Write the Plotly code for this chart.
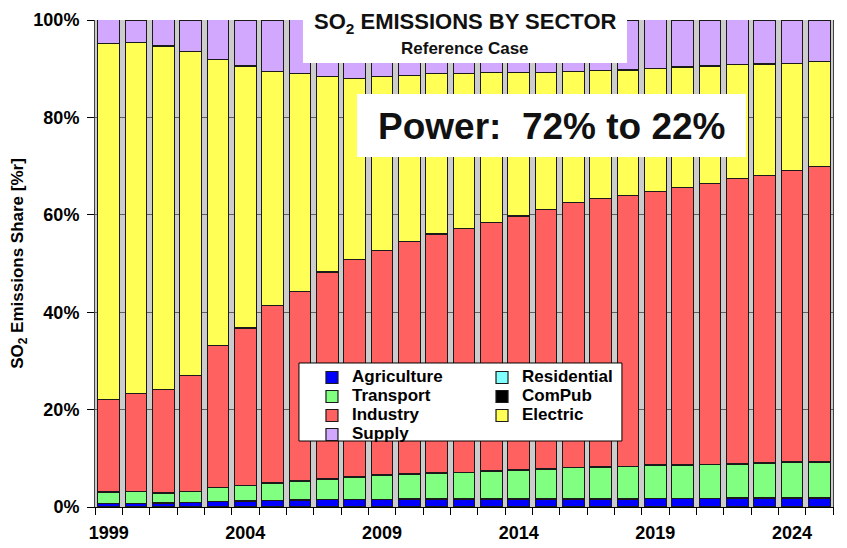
import plotly.graph_objects as go

# Años y participación (%) de cada sector en las emisiones de SO2
anios = [1999, 2000, 2001, 2002, 2003, 2004, 2005, 2006, 2007, 2008, 2009, 2010, 2011, 2012,
         2013, 2014, 2015, 2016, 2017, 2018, 2019, 2020, 2021, 2022, 2023, 2024, 2025]

agricultura = [0.7, 0.7, 0.8, 0.9, 1.1, 1.2, 1.3, 1.4, 1.5, 1.5, 1.5, 1.6, 1.6, 1.6,
               1.6, 1.6, 1.6, 1.6, 1.6, 1.6, 1.7, 1.7, 1.7, 1.8, 1.8, 1.8, 1.8]
residencial = [0.05] * 27
transporte = [2.3, 2.4, 2.0, 2.2, 2.8, 3.1, 3.5, 3.8, 4.2, 4.6, 5.0, 5.1, 5.3, 5.4,
              5.7, 5.9, 6.1, 6.4, 6.5, 6.6, 6.8, 6.8, 6.9, 7.0, 7.1, 7.3, 7.4]
compub = [0.1] * 27
industria = [19.0, 20.0, 21.1, 23.7, 29.1, 32.3, 36.4, 38.9, 42.4, 44.5, 46.1, 47.6, 49.0, 50.0,
             50.9, 52.1, 53.3, 54.3, 55.1, 55.6, 56.2, 56.9, 57.6, 58.5, 59.1, 59.8, 60.5]
electrica = [73.1, 72.1, 70.6, 66.6, 58.8, 53.8, 48.0, 44.8, 40.2, 37.3, 35.6, 34.1, 32.9, 31.8,
             30.8, 29.4, 28.0, 26.9, 26.2, 25.8, 25.2, 24.8, 24.2, 23.4, 22.8, 22.1, 21.6]
suministro = [4.8, 4.6, 5.4, 6.4, 8.1, 9.4, 10.6, 11.0, 11.6, 11.9, 11.7, 11.4, 11.1, 11.0,
              10.9, 10.8, 10.8, 10.7, 10.5, 10.2, 10.0, 9.6, 9.4, 9.2, 9.0, 8.8, 8.5]

anios_etiqueta = [1999, 2004, 2009, 2014, 2019, 2024]

FUENTE = "Arial, Liberation Sans, sans-serif"

# (nombre, valores, color, leyenda)
SECTORES = [
    ("Agriculture", agricultura, "#0000ff", "legend"),
    ("Residential", residencial, "#80ffff", "legend2"),
    ("Transport",   transporte,  "#80ff80", "legend"),
    ("ComPub",      compub,      "#000000", "legend2"),
    ("Industry",    industria,   "#ff6060", "legend"),
    ("Electric",    electrica,   "#ffff55", "legend2"),
    ("Supply",      suministro,  "#d2a8ff", "legend"),
]

fig = go.Figure()

for nombre, valores, color, leyenda in SECTORES:
    fig.add_trace(go.Bar(
        # texto grande con interlineado de fuente chica, como en la leyenda original
        name=f'<span style="font-size:17px">{nombre}</span>',
        x=anios,
        y=valores,
        marker=dict(color=color, line=dict(color="#1a1a1a", width=1.2)),
        legend=leyenda,
        hovertemplate=nombre + " %{x}: %{y:.1f}%<extra></extra>",
    ))

# ─────────────────────────────────────────
# Cajas blancas: título, nota y leyenda
# ─────────────────────────────────────────
cajas = [
    (0.2818, 0.9117, 0.7209, 1.03, None),
    (0.355, 0.7187, 0.882, 0.848, None),
    (0.2764, 0.1355, 0.714, 0.2957, "black"),
]
for x0, y0, x1, y1, borde in cajas:
    fig.add_shape(
        type="rect", xref="paper", yref="paper",
        x0=x0, y0=y0, x1=x1, y1=y1,
        fillcolor="white",
        line=dict(color=borde or "white", width=1 if borde else 0),
        layer="above",
    )

textos = [
    ("SO<sub>2</sub> EMISSIONS BY SECTOR", 0.5014, 0.9938, 22),
    ("Reference Case", 0.5014, 0.9425, 17),
    ("Power:&nbsp; 72% to 22%", 0.6186, 0.7823, 37),
]
for texto, x, y, tam in textos:
    fig.add_annotation(
        text=texto,
        xref="paper", yref="paper", x=x, y=y,
        xanchor="center", yanchor="middle",
        showarrow=False,
        font=dict(family=FUENTE, size=tam, color="#111111", weight="bold"),
    )

leyenda_base = dict(
    bgcolor="rgba(0,0,0,0)",
    borderwidth=0,
    font=dict(family=FUENTE, size=12, color="black", weight="bold"),
    xanchor="left", yanchor="top",
    y=0.2957,
    tracegroupgap=0,
    traceorder="normal",
)

# La página deja 8 px de margen alrededor de la figura
fig.update_layout(
    barmode="stack",
    bargap=0.21,
    width=839,
    height=540,
    margin=dict(l=87, r=14, t=12, b=41),
    plot_bgcolor="#cccccc",
    paper_bgcolor="white",
    showlegend=True,
    legend=dict(leyenda_base, x=0.294),
    legend2=dict(leyenda_base, x=0.5244),
    xaxis=dict(
        range=[1998.5, 2025.5],
        tickvals=anios_etiqueta,
        ticks="",
        ticklabelstandoff=9,
        tickfont=dict(family=FUENTE, size=18, color="black", weight="bold"),
        showgrid=False,
        showline=True, linecolor="black", linewidth=1,
        zeroline=False,
        automargin=False,
        minor=dict(tick0=1998.5, dtick=1, ticks="outside", ticklen=7,
                   tickcolor="black", showgrid=False),
    ),
    yaxis=dict(
        range=[0, 100],
        dtick=20,
        ticksuffix="%",
        ticks="outside", ticklen=7, tickcolor="black",
        ticklabelstandoff=4,
        ticklabeloverflow="allow",
        tickfont=dict(family=FUENTE, size=18, color="black", weight="bold"),
        showgrid=True, gridcolor="#606060", gridwidth=1,
        showline=True, linecolor="#404040", linewidth=1,
        mirror=True,
        zeroline=False,
        automargin=False,
        title=dict(
            text="SO<sub>2</sub> Emissions Share [%r]",
            font=dict(family=FUENTE, size=17, color="black", weight="bold"),
            standoff=5,
        ),
    ),
)

fig.write_html("out.html")
